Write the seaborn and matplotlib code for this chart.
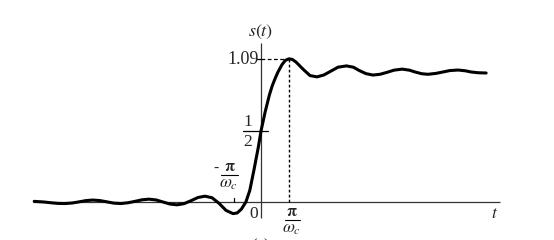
import matplotlib
matplotlib.use("Agg")
import matplotlib.pyplot as plt
import seaborn as sns
import pandas as pd

# t in units of pi/omega_c, s(t) values
t_vals = [-8.1, -7.75, -7.5, -7.25, -7.0, -6.75, -6.5, -6.25, -6.0, -5.75, -5.5, -5.25,
          -5.0, -4.75, -4.5, -4.25, -4.0, -3.75, -3.5, -3.25, -3.0, -2.75, -2.5, -2.25,
          -2.0, -1.75, -1.5, -1.25, -1.0, -0.85, -0.7, -0.54, -0.4, -0.25, -0.1, 0.0, 0.15,
          0.3, 0.4, 0.5, 0.6, 0.75, 0.87, 1.0, 1.12, 1.25, 1.5, 1.75, 2.0, 2.25, 2.5, 2.75,
          3.05, 3.3, 3.5, 3.75, 4.0, 4.25, 4.5, 4.75, 5.04, 5.3, 5.5, 5.75, 5.96, 6.25, 6.5,
          6.75, 7.04, 7.3, 7.5, 7.75, 8.04]
s_vals = [0.005, 0.0, -0.006, -0.011, -0.012, -0.008, 0.001, 0.011, 0.015, 0.011, 0.001, -0.009,
          -0.012, -0.006, 0.005, 0.017, 0.022, 0.016, 0.0, -0.016, -0.022, -0.013, 0.01, 0.035,
          0.045, 0.033, -0.01, -0.065, -0.09, -0.085, -0.055, 0.0, 0.09, 0.25, 0.42, 0.55, 0.70,
          0.83, 0.90, 0.955, 1.005, 1.065, 1.098, 1.11, 1.105, 1.085, 1.03, 0.98, 0.97, 0.985,
          1.015, 1.045, 1.055, 1.045, 1.02, 0.995, 0.984, 0.99, 1.005, 1.022, 1.03, 1.022, 1.008,
          0.994, 0.99, 0.997, 1.008, 1.019, 1.023, 1.017, 1.008, 1.002, 1.0]

peak_t = 1.0
peak_s = 1.11
half_s = 0.55

sns.set_theme(style="white")
plt.rcParams["font.family"] = ["Liberation Serif", "DejaVu Serif"]
plt.rcParams["mathtext.fontset"] = "stix"

W, H = 554, 240
fig = plt.figure(figsize=(W / 100, H / 100), dpi=100)
ax = fig.add_axes([0, 0, 1, 1])

X0, Y0, SX, SY = 261.0, 202.0, 28.0, 129.0
def U(px):
    return (px - X0) / SX
def V(py):
    return (Y0 - py) / SY

ax.set_xlim(U(0), U(W))
ax.set_ylim(V(H), V(0))
ax.axis("off")

axc = "#333333"
# axes lines
ax.plot([U(33), U(500)], [0, 0], color=axc, lw=0.9, solid_capstyle="butt")
ax.plot([0, 0], [V(218), V(43)], color=axc, lw=0.9, solid_capstyle="butt")

# dashed guides
ax.plot([0, peak_t], [peak_s, peak_s], color="black", lw=0.9, ls=(0, (3, 2)))
ax.plot([peak_t, peak_t], [0, peak_s], color="black", lw=1.0, ls=(0, (2, 1.6)))

# ticks
ax.plot([U(253), U(268)], [half_s, half_s], color="black", lw=0.9)
ax.plot([U(256), 0], [peak_s, peak_s], color="black", lw=0.9)
ax.plot([-0.96, -0.96], [0, V(198)], color="black", lw=0.9)

df = pd.DataFrame({"t": t_vals, "s": s_vals})
sns.lineplot(data=df, x="t", y="s", ax=ax, color="black", lw=2.2, sort=False,
             estimator=None, legend=False)
ax.set_xlabel("")
ax.set_ylabel("")
ax.set_xlim(U(0), U(W))
ax.set_ylim(V(H), V(0))

fs = 12
def txt(x, y, s, **kw):
    kw.setdefault("ha", "center")
    kw.setdefault("va", "center")
    kw.setdefault("fontsize", fs)
    ax.text(U(x), V(y), s, **kw)

txt(261, 32, r"$s(t)$", fontsize=13)
txt(259, 59, "1.09", ha="right", fontsize=13)
txt(248, 122, "1", fontsize=12.5)
txt(248, 142, "2", fontsize=12.5)
ax.plot([U(243), U(253)], [half_s, half_s], color="black", lw=0.9)
txt(254, 214, "0", fontsize=12.5)
txt(495, 214, r"$t$", fontsize=12.5)
# pi/omega_c below
txt(292, 212, r"$\mathbf{\pi}$", fontsize=11.5)
ax.plot([U(285), U(300)], [V(219.5), V(219.5)], color="black", lw=0.8)
txt(292, 229, r"$\omega_c$", fontsize=12.5)
# -pi/omega_c
txt(216, 168, "-", fontsize=11)
txt(230, 167, r"$\mathbf{\pi}$", fontsize=11.5)
ax.plot([U(221), U(238)], [V(174.5), V(174.5)], color="black", lw=0.8)
txt(229, 184, r"$\omega_c$", fontsize=12.5)
# partially clipped caption, as in the reference
txt(261, 246, "(a)", fontsize=12)

fig.savefig("out.png", dpi=100)
